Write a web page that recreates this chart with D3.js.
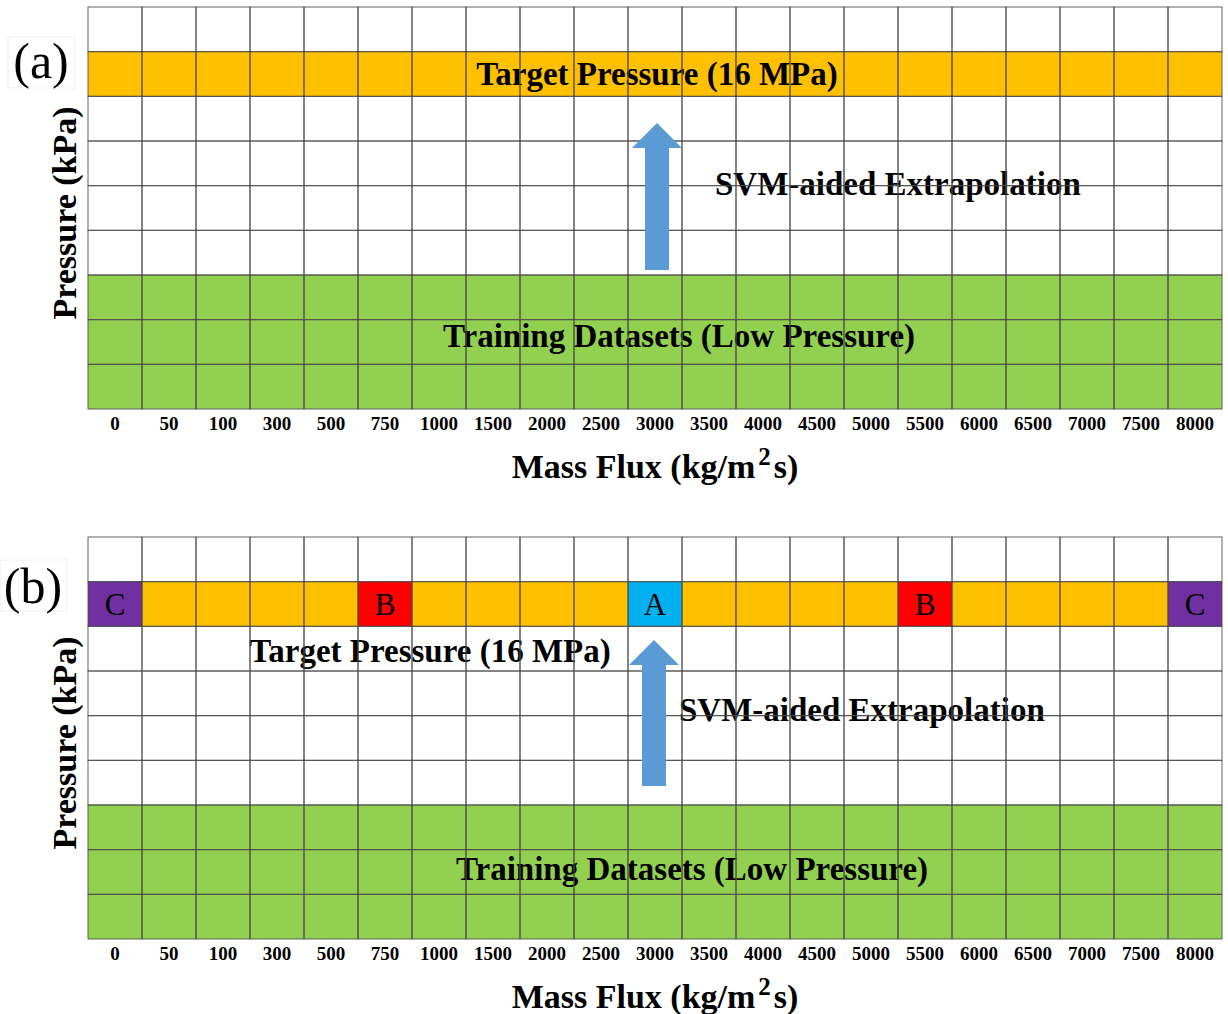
<!DOCTYPE html>
<html>
<head>
<meta charset="utf-8">
<script src="https://cdn.jsdelivr.net/npm/d3@7"></script>
<style>
  body { margin: 0; background: #fff; }
  text { font-family: "Liberation Serif", "Times New Roman", serif; }
</style>
</head>
<body>
<div id="chart"></div>
<script>
// 质量流速 (kg/m2s)
const massFlux = ["0", "50", "100", "300", "500", "750", "1000", "1500", "2000", "2500", "3000",
  "3500", "4000", "4500", "5000", "5500", "6000", "6500", "7000", "7500", "8000"];
// 压力层 (从上到下)
const pressureRows = ["r0", "r1", "r2", "r3", "r4", "r5", "r6", "r7", "r8"];
const targetRow = "r1";
const trainingRows = ["r6", "r7", "r8"];
// (b) 中的特殊点
const specialCells = [
  { flux: "0", label: "C" },
  { flux: "750", label: "B" },
  { flux: "3000", label: "A" },
  { flux: "5500", label: "B" },
  { flux: "8000", label: "C" }
];
const specialColor = { A: "#00B0F0", B: "#FF0000", C: "#7030A0" };

const width = 1228, height = 1014;
const svg = d3.select("#chart").append("svg")
  .attr("width", width)
  .attr("height", height);

const x = d3.scaleBand().domain(massFlux).range([88, 1222]);
const y = d3.scaleBand().domain(pressureRows).range([0, 402]);

function drawPanel(top, opts) {
  const g = svg.append("g").attr("transform", `translate(0,${top})`);

  const cells = [];
  pressureRows.forEach((r) => {
    massFlux.forEach((f) => {
      let fill = "#fff";
      if (r === targetRow) fill = "#FFC000";
      if (trainingRows.includes(r)) fill = "#92D050";
      if (opts.special && r === targetRow) {
        const s = specialCells.find((c) => c.flux === f);
        if (s) fill = specialColor[s.label];
      }
      cells.push({ r, f, fill });
    });
  });

  g.selectAll(".cell")
    .data(cells)
    .join("rect")
    .attr("class", "cell")
    .attr("x", (d) => x(d.f))
    .attr("y", (d) => y(d.r))
    .attr("width", x.bandwidth())
    .attr("height", y.bandwidth())
    .attr("fill", (d) => d.fill);

  if (opts.special) {
    g.selectAll(".letter")
      .data(specialCells)
      .join("text")
      .attr("class", "letter")
      .attr("x", (d) => x(d.flux) + x.bandwidth() / 2)
      .attr("y", y(targetRow) + y.bandwidth() / 2 + 11)
      .attr("text-anchor", "middle")
      .attr("font-size", 31)
      .text((d) => d.label);
  }

  // 文字 (在网格线下面)
  g.append("text")
    .attr("x", opts.targetX)
    .attr("y", opts.targetY)
    .attr("text-anchor", "middle")
    .attr("font-weight", "bold")
    .attr("font-size", 33)
    .text("Target Pressure (16 MPa)");

  g.append("text")
    .attr("x", opts.svmX)
    .attr("y", opts.svmY)
    .attr("font-weight", "bold")
    .attr("font-size", 33)
    .text("SVM-aided Extrapolation");

  g.append("text")
    .attr("x", opts.trainX)
    .attr("y", opts.trainY)
    .attr("text-anchor", "middle")
    .attr("font-weight", "bold")
    .attr("font-size", 33)
    .text("Training Datasets (Low Pressure)");

  // 网格线
  g.selectAll(".grid")
    .data(cells)
    .join("rect")
    .attr("class", "grid")
    .attr("x", (d) => x(d.f))
    .attr("y", (d) => y(d.r))
    .attr("width", x.bandwidth())
    .attr("height", y.bandwidth())
    .attr("fill", "none")
    .attr("stroke", "#4a4a4a")
    .attr("stroke-opacity", 0.85)
    .attr("stroke-width", 1);

  // x 轴
  const axis = g.append("g")
    .attr("transform", `translate(0,402)`)
    .call(d3.axisBottom(x).tickSize(0).tickPadding(8));
  axis.select(".domain").remove();
  axis.selectAll("text")
    .attr("font-family", "Liberation Serif")
    .attr("font-weight", "bold")
    .attr("font-size", 19)
    .attr("fill", "#000");

  g.append("text")
    .attr("x", 655)
    .attr("y", 471)
    .attr("text-anchor", "middle")
    .attr("font-weight", "bold")
    .attr("font-size", 34)
    .html("Mass Flux (kg/m<tspan dx='3' dy='-13' font-size='25'>2</tspan><tspan dx='3' dy='13'>s)</tspan>");

  g.append("text")
    .attr("transform", `translate(76,${206}) rotate(-90)`)
    .attr("text-anchor", "middle")
    .attr("font-weight", "bold")
    .attr("font-size", 34)
    .text("Pressure (kPa)");

  // 面板标签
  g.append("rect")
    .attr("x", opts.boxX).attr("y", opts.boxY)
    .attr("width", 67).attr("height", 51)
    .attr("fill", "#fff").attr("stroke", "#eee");
  g.append("text")
    .attr("x", opts.boxX + 33)
    .attr("y", opts.labelY)
    .attr("text-anchor", "middle")
    .attr("font-size", 50)
    .text(opts.label);

  // 箭头
  const ax = opts.arrowX, aTop = opts.arrowTop, aBot = opts.arrowBottom;
  const path = d3.path();
  path.moveTo(ax, aTop);
  path.lineTo(ax + 25, aTop + 25);
  path.lineTo(ax + 12, aTop + 25);
  path.lineTo(ax + 12, aBot);
  path.lineTo(ax - 12, aBot);
  path.lineTo(ax - 12, aTop + 25);
  path.lineTo(ax - 25, aTop + 25);
  path.closePath();
  g.append("path").attr("d", path.toString()).attr("fill", "#5B9BD5");
}

drawPanel(7, {
  special: false, label: "(a)", boxX: 8, boxY: 30, labelY: 71,
  arrowX: 657, arrowTop: 116, arrowBottom: 263,
  targetX: 657, targetY: 78, svmX: 715, svmY: 188, trainX: 679, trainY: 340
});
drawPanel(537, {
  special: true, label: "(b)", boxX: 0, boxY: 23, labelY: 66,
  arrowX: 654, arrowTop: 103, arrowBottom: 249,
  targetX: 430, targetY: 125, svmX: 679, svmY: 184, trainX: 692, trainY: 343
});
</script>
</body>
</html>
